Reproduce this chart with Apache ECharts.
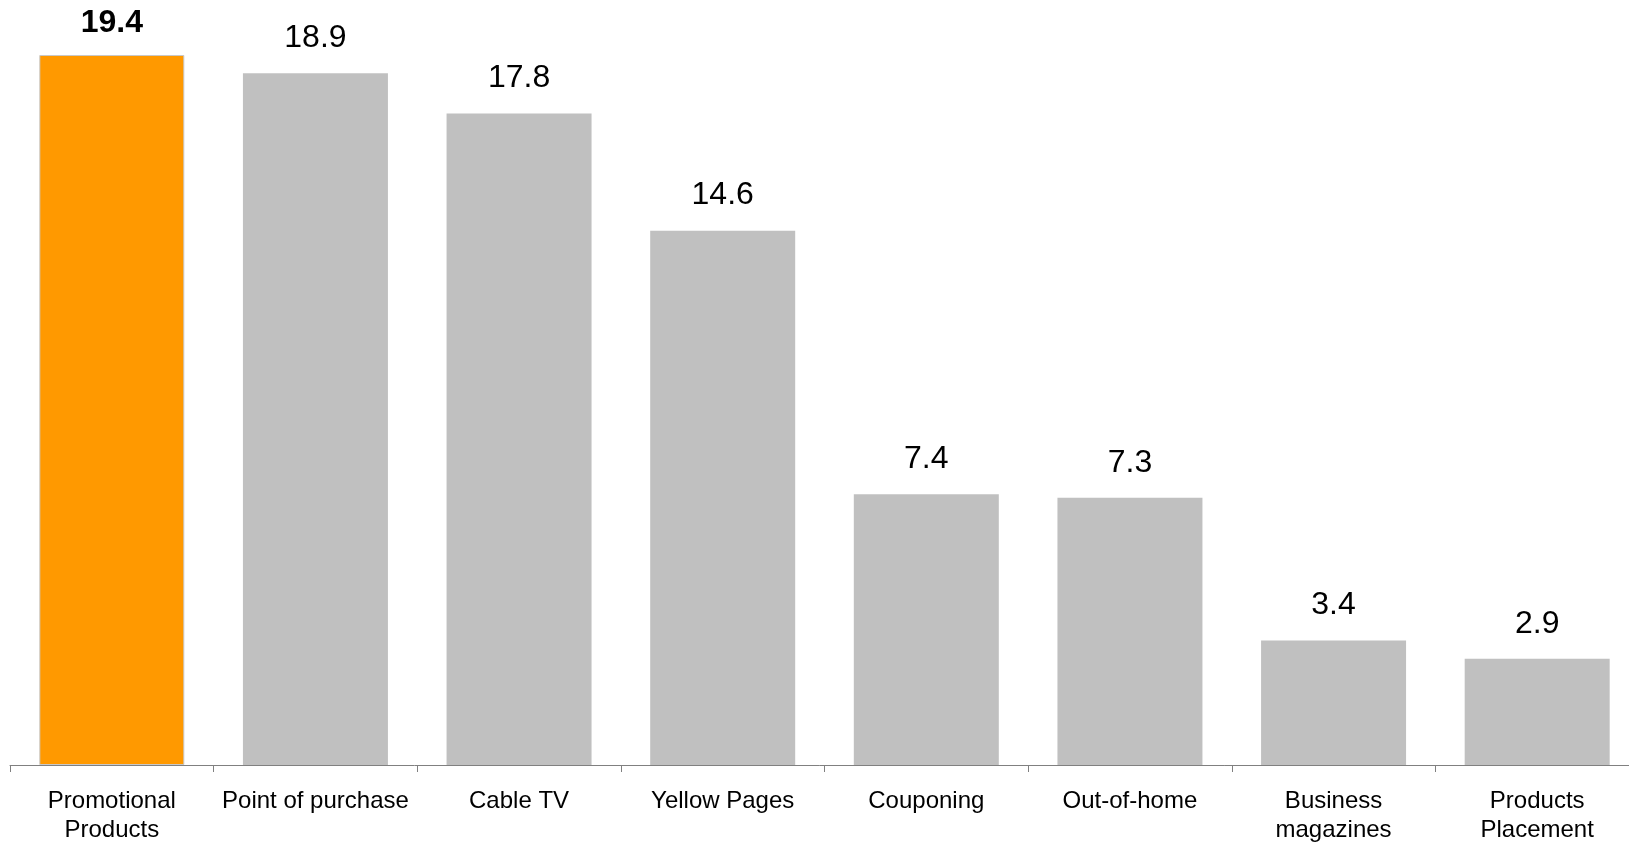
<!DOCTYPE html>
<html>
<head>
<meta charset="utf-8">
<script src="https://cdn.jsdelivr.net/npm/echarts@6/dist/echarts.min.js"></script>
<style>
  html, body { margin: 0; padding: 0; background: #fff; }
  #main { width: 1629px; height: 842px; }
</style>
</head>
<body>
<div id="main"></div>
<script>
let categories = ["Promotional\nProducts", "Point of purchase", "Cable TV", "Yellow Pages",
  "Couponing", "Out-of-home", "Business\nmagazines", "Products\nPlacement"];
let values = [19.4, 18.9, 17.8, 14.6, 7.4, 7.3, 3.4, 2.9];
let highlightIndex = 0;

let barData = [];
for (let i = 0; i < values.length; i++) {
  if (i === highlightIndex) {
    barData.push({
      value: values[i],
      itemStyle: { color: "#FF9900", borderColor: "#C8C8C8", borderWidth: 1 },
      label: { fontWeight: "bold", distance: 16 },
    });
  } else {
    barData.push({ value: values[i] });
  }
}

var myChart = echarts.init(document.getElementById("main"));

var option = {
  animation: false,
  textStyle: { fontFamily: "Liberation Sans, Arial, sans-serif" },
  // the axis runs a bit past the right edge of the picture
  grid: { left: 10, width: 1629, top: 55, bottom: 77, containLabel: false, outerBoundsMode: "none" },
  xAxis: {
    type: "category",
    data: categories,
    axisLine: { lineStyle: { color: "#808080", width: 1 } },
    axisTick: { show: true, length: 7, lineStyle: { color: "#808080" } },
    axisLabel: {
      color: "#000",
      fontSize: 24,
      lineHeight: 29,
      margin: 22,
      interval: 0,
    },
  },
  yAxis: {
    type: "value",
    min: 0,
    max: 19.4,
    show: false,
    splitLine: { show: false },
  },
  series: [
    {
      type: "bar",
      data: barData,
      barWidth: 145,
      itemStyle: { color: "#C0C0C0" },
      label: {
        show: true,
        position: "top",
        distance: 19,
        color: "#000",
        fontSize: 32,
      },
    },
  ],
};

myChart.setOption(option);
</script>
</body>
</html>
